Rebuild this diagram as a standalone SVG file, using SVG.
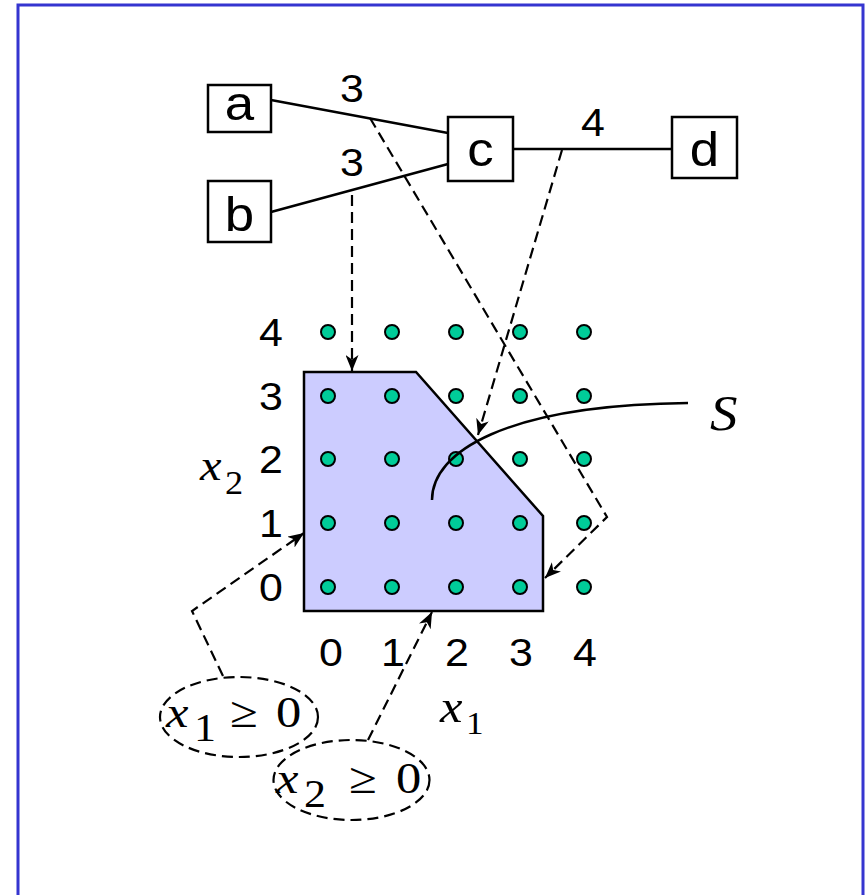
<svg xmlns="http://www.w3.org/2000/svg" width="867" height="895" viewBox="0 0 867 895">
<defs>
<style>
.box{fill:#fff;stroke:#000;stroke-width:2.5}
.edge{fill:none;stroke:#000;stroke-width:2.5}
.dash{fill:none;stroke:#000;stroke-width:2.2;stroke-dasharray:11 6}
.dot{fill:#00cc99;stroke:#000;stroke-width:2}
.lbl{font-family:"Liberation Sans",Arial,sans-serif;font-size:48px;text-anchor:middle;fill:#000}
.num{font-family:"Liberation Sans",Arial,sans-serif;font-size:39px;text-anchor:middle;fill:#000}
.math{font-family:"Liberation Serif","Times New Roman",serif;font-size:44px;fill:#000}
.it{font-style:italic}
</style>
<marker id="arr" viewBox="0 0 16 13" refX="16" refY="6.5" markerWidth="16" markerHeight="13" markerUnits="userSpaceOnUse" orient="auto">
<path d="M0,0 L16,6.5 L0,13 L4.5,6.5 z" fill="#000"/>
</marker>
</defs>
<rect x="18" y="5" width="845" height="900" fill="#fff" stroke="#3535d0" stroke-width="3"/>

<g id="region-S">
<polygon points="304,372 416,372 543,516 543,611 304,611" fill="#ccccff" stroke="#000" stroke-width="2.5"/>
</g>

<g id="grid">
<circle class="dot" cx="328" cy="332" r="7"/><circle class="dot" cx="392" cy="332" r="7"/><circle class="dot" cx="456" cy="332" r="7"/><circle class="dot" cx="520" cy="332" r="7"/><circle class="dot" cx="584" cy="332" r="7"/>
<circle class="dot" cx="328" cy="396" r="7"/><circle class="dot" cx="392" cy="396" r="7"/><circle class="dot" cx="456" cy="396" r="7"/><circle class="dot" cx="520" cy="396" r="7"/><circle class="dot" cx="584" cy="396" r="7"/>
<circle class="dot" cx="328" cy="459" r="7"/><circle class="dot" cx="392" cy="459" r="7"/><circle class="dot" cx="456" cy="459" r="7"/><circle class="dot" cx="520" cy="459" r="7"/><circle class="dot" cx="584" cy="459" r="7"/>
<circle class="dot" cx="328" cy="523" r="7"/><circle class="dot" cx="392" cy="523" r="7"/><circle class="dot" cx="456" cy="523" r="7"/><circle class="dot" cx="520" cy="523" r="7"/><circle class="dot" cx="584" cy="523" r="7"/>
<circle class="dot" cx="328" cy="587" r="7"/><circle class="dot" cx="392" cy="587" r="7"/><circle class="dot" cx="456" cy="587" r="7"/><circle class="dot" cx="520" cy="587" r="7"/><circle class="dot" cx="584" cy="587" r="7"/>
</g>

<g id="axes-labels">
<text class="num" transform="translate(271,346) scale(1.1,1)">4</text>
<text class="num" transform="translate(271,410) scale(1.1,1)">3</text>
<text class="num" transform="translate(271,473) scale(1.1,1)">2</text>
<text class="num" transform="translate(271,537) scale(1.1,1)">1</text>
<text class="num" transform="translate(271,601) scale(1.1,1)">0</text>
<text class="num" transform="translate(331,666) scale(1.1,1)">0</text>
<text class="num" transform="translate(393,666) scale(1.1,1)">1</text>
<text class="num" transform="translate(457,666) scale(1.1,1)">2</text>
<text class="num" transform="translate(521,666) scale(1.1,1)">3</text>
<text class="num" transform="translate(585,666) scale(1.1,1)">4</text>
<text class="math it" style="font-size:44px" transform="translate(200,480) scale(1.1,1)">x</text>
<text class="math" style="font-size:33px" transform="translate(225,494) scale(1.1,1)">2</text>
<text class="math it" style="font-size:46px" transform="translate(440,722) scale(1.1,1)">x</text>
<text class="math" style="font-size:32px" transform="translate(466,734) scale(1.1,1)">1</text>
<text class="math it" style="font-size:50px" transform="translate(710,430) scale(1.1,1)">S</text>
</g>

<g id="connectors">
<line class="edge" x1="271" y1="100" x2="448" y2="133"/>
<line class="edge" x1="271" y1="212" x2="448" y2="164"/>
<line class="edge" x1="513" y1="149" x2="672" y2="149"/>
<path class="edge" d="M432,500 C432,452 505,405 688,403"/>
<line class="dash" x1="352" y1="195" x2="352" y2="371" marker-end="url(#arr)"/>
<polyline class="dash" points="370,118 607,517 545,578" marker-end="url(#arr)"/>
<line class="dash" x1="562" y1="150" x2="478" y2="435" marker-end="url(#arr)"/>
<polyline class="dash" points="223,676 192,611 304,533" marker-end="url(#arr)"/>
<line class="dash" x1="368" y1="740" x2="432" y2="612" marker-end="url(#arr)"/>
</g>

<g id="edge-labels">
<text class="num" transform="translate(352,102) scale(1.1,1)">3</text>
<text class="num" transform="translate(352,176) scale(1.1,1)">3</text>
<text class="num" transform="translate(593,136) scale(1.1,1)">4</text>
</g>

<g id="node-a"><rect class="box" x="208" y="85" width="63" height="47"/><text class="lbl" transform="translate(239.5,120) scale(1.1,1)">a</text></g>
<g id="node-b"><rect class="box" x="208" y="181" width="63" height="61"/><text class="lbl" transform="translate(239.5,231) scale(1.1,1)">b</text></g>
<g id="node-c"><rect class="box" x="448" y="117" width="65" height="64"/><text class="lbl" transform="translate(480.5,166) scale(1.1,1)">c</text></g>
<g id="node-d"><rect class="box" x="672" y="117" width="65" height="61"/><text class="lbl" transform="translate(704.5,166) scale(1.1,1)">d</text></g>

<g id="constraint-x1">
<ellipse class="dash" cx="239" cy="717" rx="79" ry="40"/>
<text class="math it" transform="translate(166,727) scale(1.15,1)">x</text>
<text class="math" style="font-size:40px" transform="translate(194,741) scale(1.1,1)">1</text>
<text class="math" transform="translate(230,727) scale(1.15,1)">≥</text>
<text class="math" transform="translate(276,727) scale(1.15,1)">0</text>
</g>
<g id="constraint-x2">
<ellipse class="dash" cx="351.5" cy="780" rx="78" ry="40"/>
<text class="math it" transform="translate(276,793) scale(1.15,1)">x</text>
<text class="math" style="font-size:40px" transform="translate(304,807) scale(1.1,1)">2</text>
<text class="math" transform="translate(349,793) scale(1.15,1)">≥</text>
<text class="math" transform="translate(396,793) scale(1.15,1)">0</text>
</g>
</svg>
